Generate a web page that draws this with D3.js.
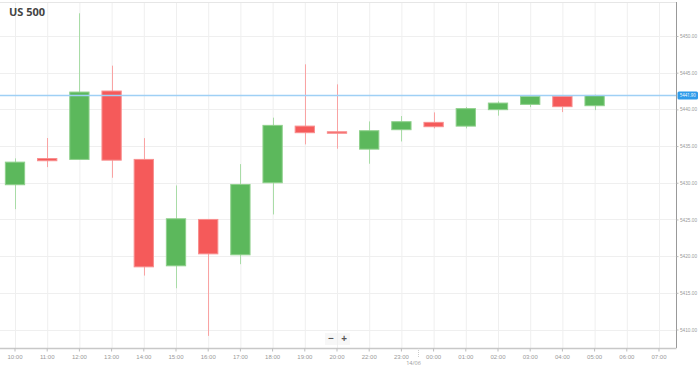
<!DOCTYPE html>
<html><head><meta charset="utf-8">
<script src="https://cdn.jsdelivr.net/npm/d3@7"></script>
<style>body{margin:0;background:#fff;}svg{display:block;font-family:"Open Sans",Roboto,sans-serif;}</style>
</head><body>
<svg id="c" width="699" height="367"></svg>
<script>
const categories = ["10:00","11:00","12:00","13:00","14:00","15:00","16:00","17:00","18:00","19:00","20:00","22:00","23:00","00:00","01:00","02:00","03:00","04:00","05:00","06:00","07:00"];
const openVals  = [5429.73,5433.30,5433.18,5442.50,5433.18,5418.68,5425.00,5420.18,5430.00,5437.72,5436.95,5434.58,5437.23,5438.23,5437.72,5439.96,5440.68,5441.77,5440.50];
const highVals  = [5433.32,5436.10,5453.10,5445.96,5436.08,5429.63,5425.00,5432.54,5438.87,5446.14,5443.41,5438.36,5439.09,5439.59,5440.31,5441.10,5441.85,5441.85,5442.00];
const lowVals   = [5426.40,5432.13,5433.10,5430.68,5417.35,5415.62,5409.13,5418.90,5425.68,5435.23,5434.64,5432.59,5435.63,5437.41,5437.41,5439.14,5440.31,5439.63,5439.90];
const closeVals = [5432.81,5433.00,5442.36,5433.08,5418.54,5425.09,5420.31,5429.77,5437.82,5436.82,5436.85,5437.09,5438.32,5437.64,5440.10,5440.86,5441.77,5440.37,5441.90];
const yTicks = [5410,5415,5420,5425,5430,5435,5440,5445,5450];
const currentPrice = 5441.90;
const title = "US 500";
const dateLabel = "14/06";

const svg = d3.select("#c");
const plotRight = 676, plotBottom = 348, plotTop = 2;

const x = d3.scaleBand().domain(categories).range([-1.1, 675.1]).paddingInner(0.37).paddingOuter(0.185);
const y = d3.scaleLinear().domain([5410,5450]).range([329.5,36]);
const cx = c => x(c) + x.bandwidth()/2;

// grid
const g = svg.append("g");
g.selectAll(".vg").data(categories).enter().append("line")
  .attr("x1", d=>cx(d)+0.5).attr("x2", d=>cx(d)+0.5).attr("y1", plotTop).attr("y2", plotBottom)
  .attr("stroke","#efefef").attr("stroke-width",1);
g.selectAll(".hg").data(yTicks).enter().append("line")
  .attr("x1",0).attr("x2",plotRight).attr("y1",d=>Math.round(y(d))+0.5).attr("y2",d=>Math.round(y(d))+0.5)
  .attr("stroke","#efefef").attr("stroke-width",1);
svg.append("line").attr("x1",0).attr("x2",plotRight).attr("y1",plotTop+0.5).attr("y2",plotTop+0.5).attr("stroke","#e6e6e6");

// candles
const data = openVals.map((o,i)=>({c:categories[i],o,h:highVals[i],l:lowVals[i],cl:closeVals[i]}));
const up = d => d.cl >= d.o;
const cg = svg.append("g");
cg.selectAll(".wick").data(data).enter().append("line")
  .attr("x1",d=>Math.round(cx(d.c))+0.5).attr("x2",d=>Math.round(cx(d.c))+0.5)
  .attr("y1",d=>y(d.h)).attr("y2",d=>y(d.l))
  .attr("stroke",d=>up(d)?"#a9dca7":"#f9a3a3").attr("stroke-width",1);
cg.selectAll(".body").data(data).enter().append("rect")
  .attr("x",d=>x(d.c)+0.5).attr("width",x.bandwidth()-1)
  .attr("y",d=>y(Math.max(d.o,d.cl)))
  .attr("height",d=>Math.max(1.5,Math.abs(y(d.o)-y(d.cl))))
  .attr("fill",d=>up(d)?"#5cb85c":"#f55a5a")
  .attr("stroke",d=>up(d)?"#8fd08c":"#f88f8f").attr("stroke-width",1);

// current price line
svg.append("line").attr("x1",0).attr("x2",plotRight).attr("y1",y(currentPrice)).attr("y2",y(currentPrice))
  .attr("stroke","#9fd0f5").attr("stroke-width",1.6);

// right axis
const ya = svg.append("g").attr("transform",`translate(${plotRight+0.5},0)`)
  .call(d3.axisRight(y).tickValues(yTicks).tickFormat(d=>d.toFixed(2)).tickSize(2).tickPadding(1.5));
ya.select(".domain").attr("d",`M0,${plotTop}V${plotBottom}`).attr("stroke","#999");
ya.selectAll(".tick line").attr("stroke","#bbb");
ya.selectAll(".tick text").attr("fill","#999").attr("font-size",5)
  .attr("textLength",17).attr("lengthAdjust","spacingAndGlyphs");

// price label
const py = y(currentPrice);
svg.append("rect").attr("x",677.5).attr("y",py-4).attr("width",20.5).attr("height",8).attr("rx",1.5).attr("fill","#2e9bea");
svg.append("text").attr("x",687.75).attr("y",py+2).attr("text-anchor","middle").attr("fill","#fff").attr("font-size",5)
  .attr("textLength",16).attr("lengthAdjust","spacingAndGlyphs").text(currentPrice.toFixed(2));

// bottom axis
const xa = svg.append("g").attr("transform",`translate(0,${plotBottom+0.5})`)
  .call(d3.axisBottom(x).tickSize(3).tickPadding(3));
xa.select(".domain").attr("d",`M0,0H${plotRight+0.5}`).attr("stroke","#c8c8c8").attr("stroke-width",1.5);
xa.selectAll(".tick line").attr("stroke","#bbb");
xa.selectAll(".tick text").attr("fill","#999").attr("font-size",6);

// date separator
const sepX = (cx("23:00")+cx("00:00"))/2;
svg.append("line").attr("x1",Math.round(sepX)+0.5).attr("x2",Math.round(sepX)+0.5).attr("y1",plotBottom).attr("y2",357)
  .attr("stroke","#ccc").attr("stroke-dasharray","1,1");
svg.append("text").attr("x",sepX-4).attr("y",365).attr("text-anchor","middle").attr("fill","#999").attr("font-size",5.5).text(dateLabel);

// zoom buttons
[["\u2212",331],["+",344]].forEach(([t,bx])=>{
  svg.append("rect").attr("x",bx-6).attr("y",333).attr("width",12).attr("height",12).attr("fill","#f7f7f7");
  svg.append("text").attr("x",bx).attr("y",342).attr("text-anchor","middle").attr("fill","#555").attr("font-size",10).attr("font-weight","bold").text(t);
});

// title
svg.append("text").attr("x",9).attr("y",16).attr("fill","#444").attr("font-size",11).attr("font-weight","bold").text(title);
</script>
</body></html>
